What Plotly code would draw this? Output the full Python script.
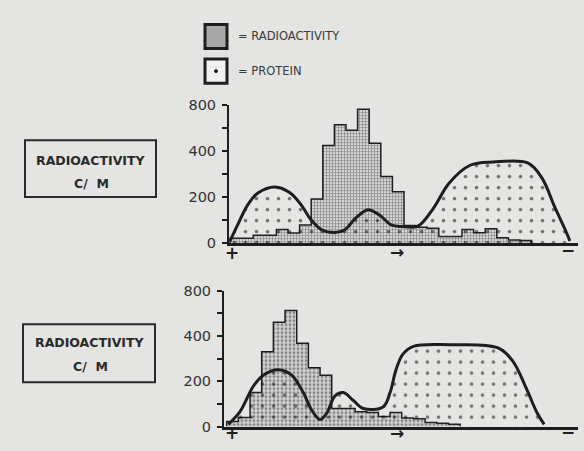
import plotly.graph_objects as go

# ---------------- data ----------------
# y axis as printed: 0,200,400 evenly spaced, then 800 one step further (broken scale)
y_tick_values = [0, 100, 200, 300, 400, 600, 800]
y_tick_labels = ["0", "", "200", "", "400", "", "800"]

# fraction index (bin edges are integers)
top_radio = [22, 22, 35, 35, 60, 45, 80, 192, 450, 629, 581, 764, 470, 290, 224,
             78, 70, 65, 30, 30, 60, 46, 63, 24, 14, 12]
top_protein_x = [0.0, 0.72, 1.58, 2.44, 3.88, 5.17, 6.18, 6.9, 7.9, 9.05, 9.9, 10.8,
                 11.9, 12.9, 13.9, 14.8, 16.2, 17.5, 18.9, 20.7, 22.7, 25.7, 26.9,
                 28.0, 28.9, 29.3]
top_protein_y = [10, 87, 171, 220, 245, 220, 164, 108, 59, 47, 59, 108,
                 146, 122, 80, 73, 75, 150, 262, 339, 353, 348, 283,
                 157, 59, 10]

bot_radio = [22, 40, 151, 330, 520, 625, 368, 260, 227, 80, 80, 66, 62, 45, 62,
             38, 35, 18, 15, 10]
bot_protein_x = [0.14, 1.14, 2.28, 3.14, 4.42, 5.57, 6.56, 7.28, 8.0, 8.57, 9.28,
                 9.99, 10.85, 11.7, 13.4, 14.0, 14.5, 15.1, 16.0, 19.1, 23.2, 24.5,
                 25.7, 26.6, 27.2]
bot_protein_y = [10, 66, 178, 227, 251, 227, 150, 73, 31, 59, 136,
                 150, 115, 80, 87, 150, 250, 320, 354, 361, 348, 290,
                 165, 60, 10]

legend_labels = ["= RADIOACTIVITY", "= PROTEIN"]
panel_label = ["RADIOACTIVITY", "C/  M"]
direction_marks = ["+", "→", "−"]


def pos(v):
    """map a printed value onto the broken axis (400->800 is compressed 2x)."""
    return v if v <= 400 else 400 + (v - 400) / 2.0


def step_xy(vals):
    xs = [0] + list(range(len(vals))) + [len(vals)]
    ys = [0] + [pos(v) for v in vals] + [0]
    return xs, ys


W, H = 584, 451
BG = "#e4e4e2"
INK = "#1e1e1e"


def px_x(p):
    return p / W


def px_y(p):
    return 1 - p / H


fig = go.Figure()

# top histogram (grid texture)
tx, ty = step_xy(top_radio)
fig.add_trace(go.Scatter(
    x=tx, y=ty, mode="lines", line=dict(shape="hv", color=INK, width=1.5),
    fill="tozeroy", fillcolor="#c0c0c0",
    fillpattern=dict(shape="+", size=3, solidity=0.45, fgcolor="#404040", bgcolor="#d8d8d8"),
    xaxis="x", yaxis="y", showlegend=False, hoverinfo="skip"))
fig.add_trace(go.Scatter(
    x=top_protein_x, y=[pos(v) for v in top_protein_y], mode="lines",
    line=dict(shape="spline", smoothing=1.0, color=INK, width=3),
    fill="tozeroy", fillcolor="rgba(255,255,255,0.02)",
    fillpattern=dict(shape=".", size=11, solidity=0.085, fgcolor="#000000",
                     bgcolor="rgba(255,255,255,0.02)"),
    xaxis="x", yaxis="y", showlegend=False, hoverinfo="skip"))

# bottom histogram (stipple texture)
bx, by = step_xy(bot_radio)
fig.add_trace(go.Scatter(
    x=bx, y=by, mode="lines", line=dict(shape="hv", color=INK, width=1.5),
    fill="tozeroy", fillcolor="#c0c0c0",
    fillpattern=dict(shape=".", size=4, solidity=0.45, fgcolor="#383838", bgcolor="#d4d4d4"),
    xaxis="x2", yaxis="y2", showlegend=False, hoverinfo="skip"))
fig.add_trace(go.Scatter(
    x=bot_protein_x, y=[pos(v) for v in bot_protein_y], mode="lines",
    line=dict(shape="spline", smoothing=1.0, color=INK, width=3),
    fill="tozeroy", fillcolor="rgba(255,255,255,0.02)",
    fillpattern=dict(shape=".", size=11, solidity=0.085, fgcolor="#000000",
                     bgcolor="rgba(255,255,255,0.02)"),
    xaxis="x2", yaxis="y2", showlegend=False, hoverinfo="skip"))

tickvals = [pos(v) for v in y_tick_values]
yax = dict(range=[0, pos(800)], tickvals=tickvals, ticktext=y_tick_labels,
           showline=True, linecolor=INK, linewidth=2, ticks="outside", ticklen=5,
           tickwidth=2, tickcolor=INK, showgrid=False, zeroline=False,
           tickfont=dict(family="DejaVu Sans", size=14.5, color="#333333"),
           ticklabelstandoff=3, fixedrange=True)
xax = dict(showline=True, linecolor=INK, linewidth=3, showticklabels=False,
           ticks="", showgrid=False, zeroline=False, fixedrange=True)

fig.update_layout(
    width=W, height=H, margin=dict(l=0, r=0, t=0, b=0),
    paper_bgcolor=BG, plot_bgcolor="rgba(0,0,0,0)",
    xaxis=dict(xax, domain=[px_x(229), px_x(578)], range=[-0.086, 30.0], anchor="y"),
    yaxis=dict(yax, domain=[px_y(244), px_y(100.7)], anchor="x"),
    xaxis2=dict(xax, domain=[px_x(224), px_x(578)], range=[-0.231, 30.1], anchor="y2"),
    yaxis2=dict(yax, domain=[px_y(434), px_y(293)], anchor="x2"),
)

shapes = []
anns = []
# legend icons
shapes.append(dict(type="rect", xref="paper", yref="paper",
                   x0=px_x(205), x1=px_x(227), y0=px_y(42), y1=px_y(17),
                   line=dict(color=INK, width=3), fillcolor="#a8a8a8"))
shapes.append(dict(type="rect", xref="paper", yref="paper",
                   x0=px_x(205), x1=px_x(227), y0=px_y(78), y1=px_y(53),
                   line=dict(color=INK, width=3), fillcolor="#f0f0f0"))
shapes.append(dict(type="circle", xref="paper", yref="paper",
                   x0=px_x(214.5), x1=px_x(217.5), y0=px_y(67), y1=px_y(64),
                   line=dict(color=INK, width=1), fillcolor=INK))
anns.append(dict(text=legend_labels[0], x=px_x(236), y=px_y(29), xref="paper", yref="paper",
                 xanchor="left", yanchor="middle", showarrow=False,
                 font=dict(family="DejaVu Sans", size=11.5, color="#3a3a3a")))
anns.append(dict(text=legend_labels[1], x=px_x(236), y=px_y(65), xref="paper", yref="paper",
                 xanchor="left", yanchor="middle", showarrow=False,
                 font=dict(family="DejaVu Sans", size=11.5, color="#3a3a3a")))

# left boxes
for (x0, x1, y0, y1, t1, t2) in [(25, 156, 137, 196, 158, 182), (23, 155, 328, 388, 347, 372)]:
    shapes.append(dict(type="rect", xref="paper", yref="paper",
                       x0=px_x(x0), x1=px_x(x1), y0=px_y(y1), y1=px_y(y0),
                       line=dict(color="#2a2a2a", width=2), fillcolor="rgba(0,0,0,0)"))
    anns.append(dict(text="<b>%s</b>" % panel_label[0], x=px_x((x0 + x1) / 2), y=px_y(t1),
                     xref="paper", yref="paper", showarrow=False,
                     xanchor="center", yanchor="middle",
                     font=dict(family="DejaVu Sans", size=12.5, color="#2a2a2a")))
    anns.append(dict(text="<b>%s</b>" % panel_label[1], x=px_x((x0 + x1) / 2 + 1), y=px_y(t2),
                     xref="paper", yref="paper", showarrow=False,
                     xanchor="center", yanchor="middle",
                     font=dict(family="DejaVu Sans", size=12.5, color="#2a2a2a")))

# direction marks under the axes
for ys in [[254, 253, 251], [441, 441, 440]]:
    for mark, xx, yv in zip(direction_marks, [232, 397, 568], ys):
        anns.append(dict(text="<b>%s</b>" % mark, x=px_x(xx), y=px_y(yv), xref="paper", yref="paper",
                         showarrow=False, xanchor="center", yanchor="middle",
                         font=dict(family="DejaVu Sans", size=17, color=INK)))

fig.update_layout(shapes=shapes, annotations=anns)
fig.write_html("out.html", config={"displayModeBar": False, "staticPlot": True},
               post_script="document.body.style.margin='0';document.body.style.overflow='hidden';")
